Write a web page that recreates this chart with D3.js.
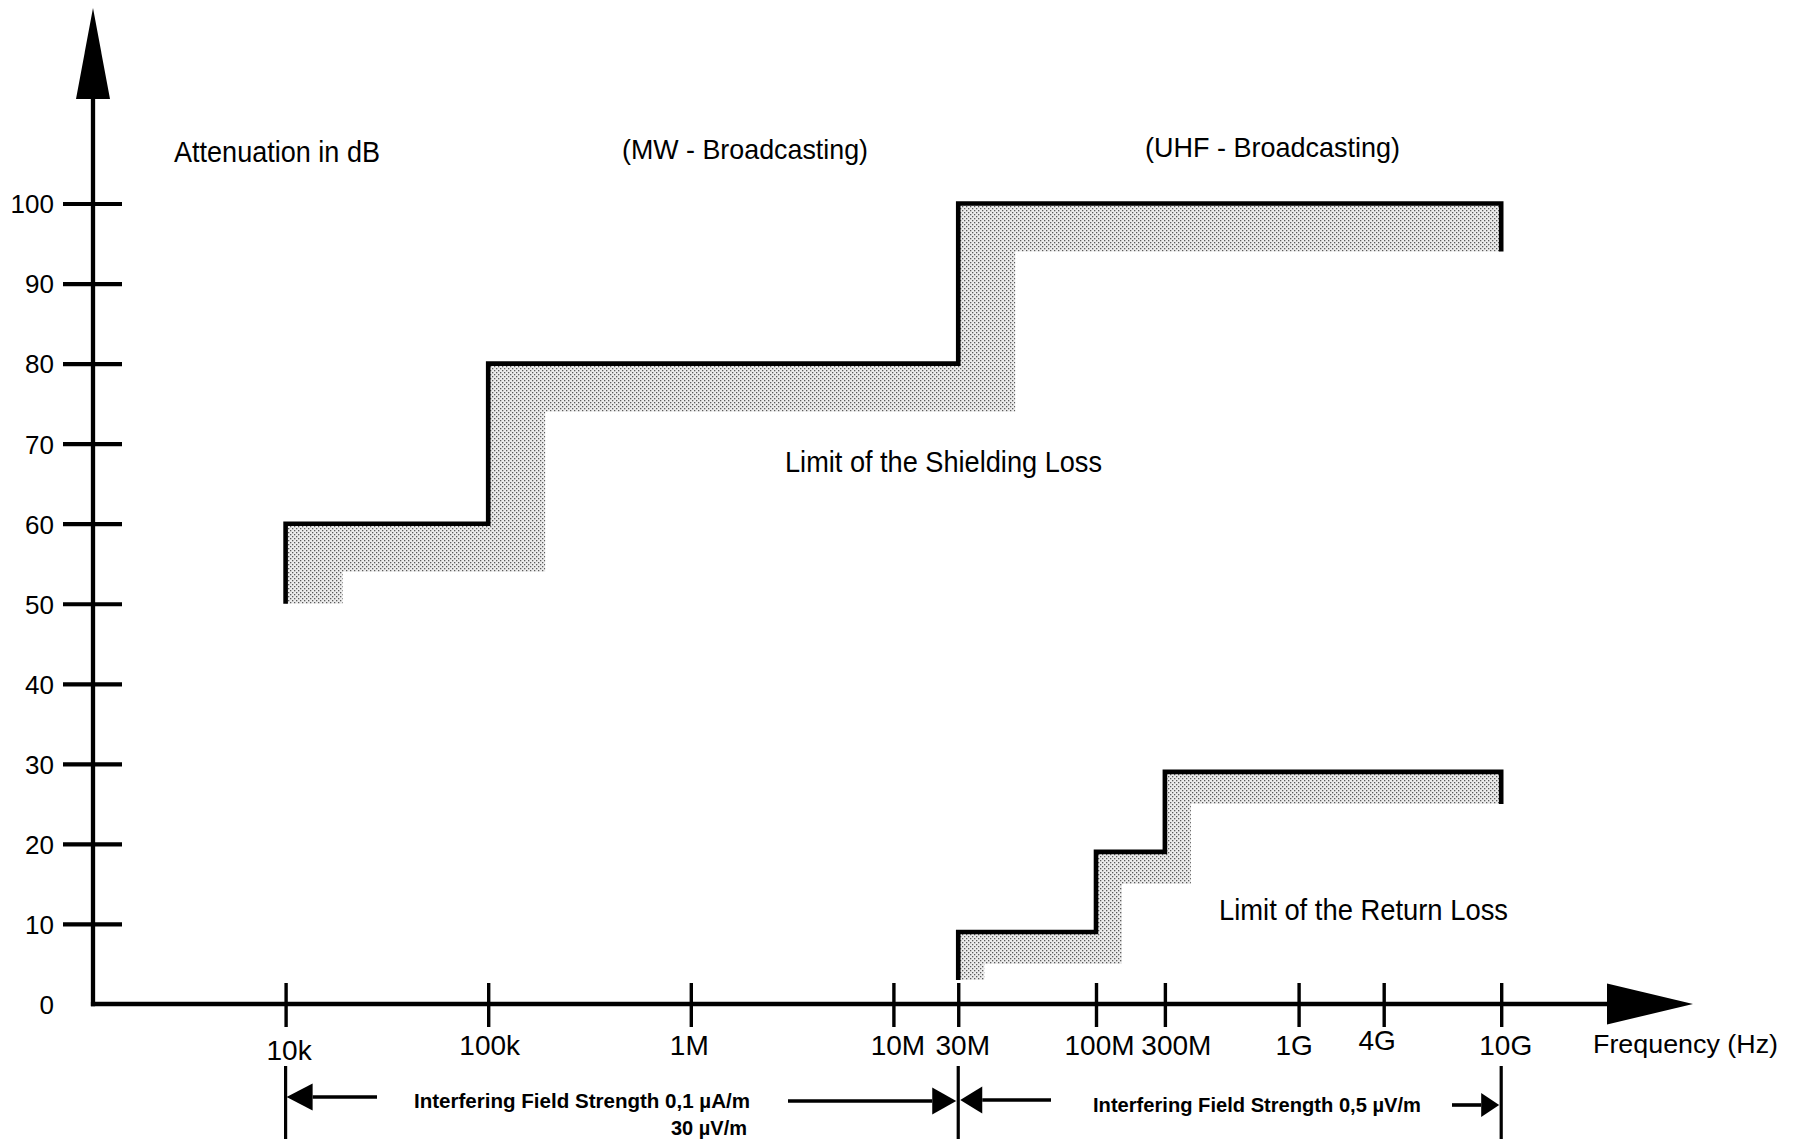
<!DOCTYPE html>
<html>
<head>
<meta charset="utf-8">
<script src="https://cdn.jsdelivr.net/npm/d3@7"></script>
<style>
  html, body { margin: 0; padding: 0; background: #fff; }
  svg { display: block; }
  text { font-family: "Liberation Sans", Arial, Helvetica, sans-serif; fill: #000; }
</style>
</head>
<body>
<svg id="chart" width="1803" height="1143"></svg>
<script>
// ---------------- data ----------------
const tickFreqs  = [1e4, 1e5, 1e6, 1e7, 3e7, 1e8, 3e8, 1e9, 4e9, 1e10];
const tickLabels = ["10k", "100k", "1M", "10M", "30M", "100M", "300M", "1G", "4G", "10G"];
const yTicks = [0, 10, 20, 30, 40, 50, 60, 70, 80, 90, 100];

// Limit of the shielding loss (dB), stepping at these frequencies
const shieldBreaks = [1e4, 1e5, 3e7, 1e10];
const shieldLevels = [60, 80, 100];
const shieldStart = 50, shieldEnd = 94, shieldShadeDb = 6;

// Limit of the return loss (dB)
const returnBreaks = [3e7, 1e8, 3e8, 1e10];
const returnLevels = [9, 19, 29];
const returnStart = 3, returnEnd = 25, returnShadeDb = 4;

// Interfering field strength ranges
const rangeBounds = [1e4, 3e7, 1e10];

// ---------------- layout ----------------
const W = 1803, H = 1143;
const axisX = 93, axisY = 1004;
const xSlots = [0, 1, 2, 3, 3.32, 4, 4.34, 5, 5.42, 6]; // schematic decade positions
const x0 = 285.6, decadeW = 202.6;
const labelDx = [3, 1, -2, 4, 4, 3, 11, -5, -7, 4];
const labelDy = [5, 0, 0, 0, 0, 0, 0, 0, -5, 0];

const svg = d3.select("#chart");

const x = d3.scaleLog().domain(tickFreqs).range(xSlots.map(s => x0 + s * decadeW));
const y = d3.scaleLinear().domain([0, 100]).range([axisY, 203.5]);

// stipple pattern
const defs = svg.append("defs");
const pat = defs.append("pattern").attr("id", "stipple")
  .attr("patternUnits", "userSpaceOnUse").attr("width", 4).attr("height", 4);
pat.append("rect").attr("width", 4).attr("height", 4).attr("fill", "#ececec");
pat.append("rect").attr("x", 0).attr("y", 0).attr("width", 1.3).attr("height", 1.3).attr("fill", "#5a5a5a");
pat.append("rect").attr("x", 2).attr("y", 2).attr("width", 1.3).attr("height", 1.3).attr("fill", "#5a5a5a");

// ---------------- shaded bands + step lines ----------------
function drawLimit(breaks, levels, start, end, shadeDb, shadePx) {
  const rects = [];
  // vertical bands
  rects.push({ x1: x(breaks[0]), x2: x(breaks[0]) + shadePx, v1: start, v2: levels[0] });
  for (let i = 1; i < levels.length; i++) {
    rects.push({ x1: x(breaks[i]), x2: x(breaks[i]) + shadePx, v1: levels[i - 1], v2: levels[i] });
  }
  // horizontal bands
  levels.forEach((lv, i) => {
    const last = i === levels.length - 1;
    const xe = last ? x(breaks[i + 1]) : x(breaks[i + 1]) + shadePx;
    rects.push({ x1: x(breaks[i]), x2: xe, v1: lv - shadeDb, v2: lv });
  });
  svg.append("g").selectAll("rect").data(rects).join("rect")
    .attr("x", d => d.x1).attr("width", d => d.x2 - d.x1)
    .attr("y", d => y(d.v2)).attr("height", d => y(d.v1) - y(d.v2))
    .attr("fill", "url(#stipple)");

  const pts = [{ f: breaks[0], v: start }];
  levels.forEach((lv, i) => pts.push({ f: breaks[i], v: lv }));
  pts.push({ f: breaks[breaks.length - 1], v: end });
  const line = d3.line().x(d => x(d.f)).y(d => y(d.v)).curve(d3.curveStepAfter);
  svg.append("path").attr("d", line(pts))
    .attr("fill", "none").attr("stroke", "#000").attr("stroke-width", 4.6)
    .attr("stroke-linejoin", "miter").attr("stroke-linecap", "butt");
}
drawLimit(shieldBreaks, shieldLevels, shieldStart, shieldEnd, shieldShadeDb, 57);
drawLimit(returnBreaks, returnLevels, returnStart, returnEnd, returnShadeDb, 26);

// ---------------- axes ----------------
const yAxis = svg.append("g").attr("transform", `translate(${axisX},0)`)
  .call(d3.axisLeft(y).tickValues(yTicks).tickSize(30).tickPadding(0));
yAxis.select(".domain").remove();
yAxis.selectAll(".tick line").attr("x1", -30).attr("x2", 29)
  .attr("stroke", "#000").attr("stroke-width", 4.2);
yAxis.selectAll(".tick text").attr("x", -39).attr("dy", "0.36em")
  .attr("font-size", 26).attr("font-family", "Liberation Sans, Arial, sans-serif").attr("fill", "#000");
yAxis.selectAll(".tick").filter(d => d === 0).select("line").remove();

const xAxis = svg.append("g").attr("transform", `translate(0,${axisY})`)
  .call(d3.axisBottom(x).tickValues(tickFreqs).tickFormat((d, i) => tickLabels[i]).tickSize(0));
xAxis.select(".domain").remove();
xAxis.selectAll(".tick line").attr("y1", -21).attr("y2", 23)
  .attr("stroke", "#000").attr("stroke-width", 3.4);
xAxis.selectAll(".tick text")
  .attr("y", (d, i) => 51 + labelDy[i]).attr("dy", 0).attr("x", (d, i) => labelDx[i])
  .attr("font-size", 28).attr("font-family", "Liberation Sans, Arial, sans-serif").attr("fill", "#000");

// axis lines + arrows
svg.append("line").attr("x1", axisX).attr("x2", axisX).attr("y1", 96).attr("y2", axisY + 2.2)
  .attr("stroke", "#000").attr("stroke-width", 4.3);
svg.append("line").attr("x1", axisX - 2.1).attr("x2", 1610).attr("y1", axisY).attr("y2", axisY)
  .attr("stroke", "#000").attr("stroke-width", 4.6);
svg.append("path").attr("d", `M${axisX},8 L${axisX - 17},99 L${axisX + 17},99 Z`).attr("fill", "#000");
svg.append("path").attr("d", `M1693,${axisY} L1607,${axisY - 20.5} L1607,${axisY + 20.5} Z`).attr("fill", "#000");

// ---------------- labels ----------------
function label(txt, xx, yy, size, len, opts = {}) {
  const t = svg.append("text").attr("x", xx).attr("y", yy).attr("font-size", size).text(txt);
  if (len) t.attr("textLength", len).attr("lengthAdjust", "spacingAndGlyphs");
  if (opts.bold) t.attr("font-weight", "bold");
  if (opts.anchor) t.attr("text-anchor", opts.anchor);
  return t;
}
label("Attenuation in dB", 174, 162, 30, 206);
label("(MW - Broadcasting)", 622, 159, 28, 246);
label("(UHF - Broadcasting)", 1145, 157, 28, 255);
label("Limit of the Shielding Loss", 785, 472, 29, 317);
label("Limit of the Return Loss", 1219, 920, 29, 289);
label("Frequency (Hz)", 1593, 1053, 26, 185);

// ---------------- interfering field strength ranges ----------------
const g = svg.append("g");
rangeBounds.forEach(f => {
  g.append("line").attr("x1", x(f)).attr("x2", x(f)).attr("y1", 1066).attr("y2", 1139)
    .attr("stroke", "#000").attr("stroke-width", 3.2);
});
function arrow(tipX, yy, dir, len, half, tailX) {
  // dir: -1 points left, +1 points right
  const baseX = tipX - dir * len;
  g.append("path").attr("d", `M${tipX},${yy} L${baseX},${yy - half} L${baseX},${yy + half} Z`).attr("fill", "#000");
  g.append("line").attr("x1", baseX).attr("x2", tailX).attr("y1", yy).attr("y2", yy)
    .attr("stroke", "#000").attr("stroke-width", 3.6);
}
arrow(x(rangeBounds[0]) + 1, 1097, -1, 26, 13.5, 377);
arrow(x(rangeBounds[1]) - 2, 1101, 1, 24, 13.5, 788);
arrow(x(rangeBounds[1]) + 2, 1100, -1, 22, 13.5, 1051);
arrow(x(rangeBounds[2]) - 2, 1105, 1, 18, 12, 1452);

label("Interfering Field Strength 0,1 \u00b5A/m", 414, 1108, 21, 336, { bold: true });
label("30 \u00b5V/m", 671, 1135, 21, 76, { bold: true });
label("Interfering Field Strength 0,5 \u00b5V/m", 1093, 1112, 21, 328, { bold: true });
</script>
</body>
</html>
